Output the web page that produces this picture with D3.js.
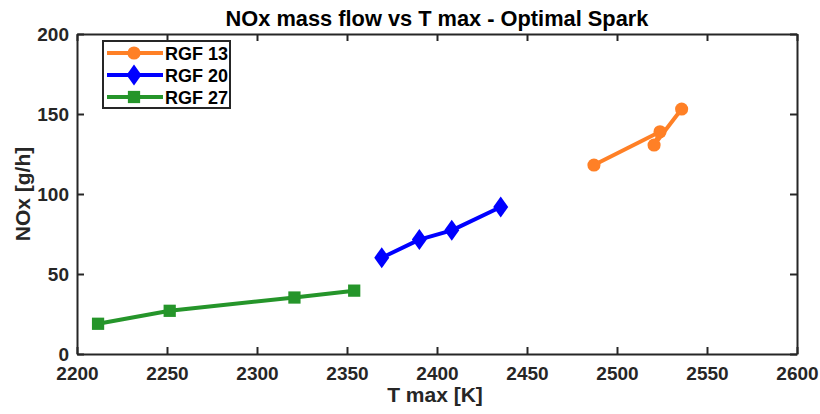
<!DOCTYPE html>
<meta charset="utf-8">
<script src="https://d3js.org/d3.v7.min.js"></script>
<style>
  body { margin: 0; background: #fff; }
  text { font-family: "Liberation Sans", Arial, sans-serif; font-weight: bold; fill: #262626; }
</style>
<div id="my_dataviz"></div>
<script>

// data
var rgf13_T = [2487.2, 2523.9, 2520.6, 2535.9]
var rgf13_NOx = [118.1, 138.9, 130.6, 153.1]
var rgf20_T = [2369.3, 2390.2, 2408.2, 2435.4]
var rgf20_NOx = [60.2, 71.5, 77.3, 91.9]
var rgf27_T = [2211.7, 2251.5, 2320.8, 2354.0]
var rgf27_NOx = [18.9, 27.0, 35.3, 39.6]
var xTicks = [2200, 2250, 2300, 2350, 2400, 2450, 2500, 2550, 2600]
var yTicks = [0, 50, 100, 150, 200]

var series = [
  {name: "RGF 13", color: "#FF8026", marker: "circle", T: rgf13_T, NOx: rgf13_NOx},
  {name: "RGF 20", color: "#0000FF", marker: "diamond", T: rgf20_T, NOx: rgf20_NOx},
  {name: "RGF 27", color: "#25952A", marker: "square", T: rgf27_T, NOx: rgf27_NOx}
]

var W = 820, H = 414
var margin = {top: 34, right: 23, bottom: 60, left: 77},
  width = W - margin.left - margin.right,
  height = H - margin.top - margin.bottom;

var svg = d3.select("#my_dataviz")
.append("svg")
  .attr("width", W)
  .attr("height", H)
.append("g")
  .attr("transform", "translate(" + margin.left + "," + margin.top + ")");

var x = d3.scaleLinear().domain([2200, 2600]).range([0, width])
var y = d3.scaleLinear().domain([0, 200]).range([height, 0])

var axisColor = "#262626"

// axes with inward ticks, box on all four sides
svg.append("g")
  .attr("transform", "translate(0," + height + ")")
  .call(d3.axisBottom(x).tickValues(xTicks).tickSizeInner(-7).tickSizeOuter(0).tickPadding(13).tickFormat(d3.format("d")))
svg.append("g")
  .call(d3.axisLeft(y).tickValues(yTicks).tickSizeInner(-7).tickSizeOuter(0).tickPadding(8))
svg.append("g")
  .call(d3.axisTop(x).tickValues(xTicks).tickSizeInner(-7).tickSizeOuter(0).tickFormat(""))
svg.append("g")
  .attr("transform", "translate(" + width + ",0)")
  .call(d3.axisRight(y).tickValues(yTicks).tickSizeInner(-7).tickSizeOuter(0).tickFormat(""))

svg.selectAll(".domain").attr("stroke", axisColor).attr("stroke-width", 2)
svg.selectAll(".tick line").attr("stroke", axisColor).attr("stroke-width", 2)
svg.selectAll(".tick text").style("font-size", "19px").attr("fill", axisColor)

// lines and markers
var line = d3.line()
  .x(function(d){ return x(d[0]) })
  .y(function(d){ return y(d[1]) })

// MATLAB style diamond: a bit taller than wide
var diamond = { draw: function(ctx) {
  ctx.moveTo(0, -10.5); ctx.lineTo(7.5, 0); ctx.lineTo(0, 10.5); ctx.lineTo(-7.5, 0); ctx.closePath()
}}
var symbols = {
  circle: d3.symbol().type(d3.symbolCircle).size(135),
  diamond: d3.symbol().type(diamond),
  square: d3.symbol().type(d3.symbolSquare).size(150)
}

series.forEach(function(s) {
  var pts = s.T.map(function(t, i){ return [t, s.NOx[i]] })
  svg.append("path")
    .datum(pts)
    .attr("d", line)
    .attr("fill", "none")
    .attr("stroke", s.color)
    .attr("stroke-width", 4)
    .attr("stroke-linejoin", "round")
  svg.selectAll(null)
    .data(pts)
    .enter()
    .append("path")
      .attr("d", symbols[s.marker])
      .attr("transform", function(d){ return "translate(" + x(d[0]) + "," + y(d[1]) + ")" })
      .attr("fill", s.color)
})

// legend
var lg = svg.append("g").attr("transform", "translate(26,7)")
lg.append("rect")
  .attr("width", 127).attr("height", 67)
  .attr("fill", "#fff").attr("stroke", axisColor).attr("stroke-width", 2)
series.forEach(function(s, i) {
  var yy = 12 + i * 22
  lg.append("line")
    .attr("x1", 4).attr("x2", 60).attr("y1", yy).attr("y2", yy)
    .attr("stroke", s.color).attr("stroke-width", 4)
  lg.append("path")
    .attr("d", symbols[s.marker])
    .attr("transform", "translate(31," + yy + ")")
    .attr("fill", s.color)
  lg.append("text")
    .attr("x", 62).attr("y", yy + 6.5)
    .style("font-size", "18px")
    .style("fill", "#000")
    .text(s.name)
})

// title and axis labels
svg.append("text")
  .attr("x", width / 2).attr("y", -8)
  .attr("text-anchor", "middle")
  .style("font-size", "21.8px")
  .style("fill", "#000")
  .text("NOx mass flow vs T max - Optimal Spark")
svg.append("text")
  .attr("x", width / 2 - 2).attr("y", height + 48)
  .attr("text-anchor", "middle")
  .style("font-size", "21px")
  .text("T max [K]")
svg.append("text")
  .attr("transform", "translate(-47," + (height / 2) + ") rotate(-90)")
  .attr("text-anchor", "middle")
  .style("font-size", "21px")
  .text("NOx [g/h]")

</script>
